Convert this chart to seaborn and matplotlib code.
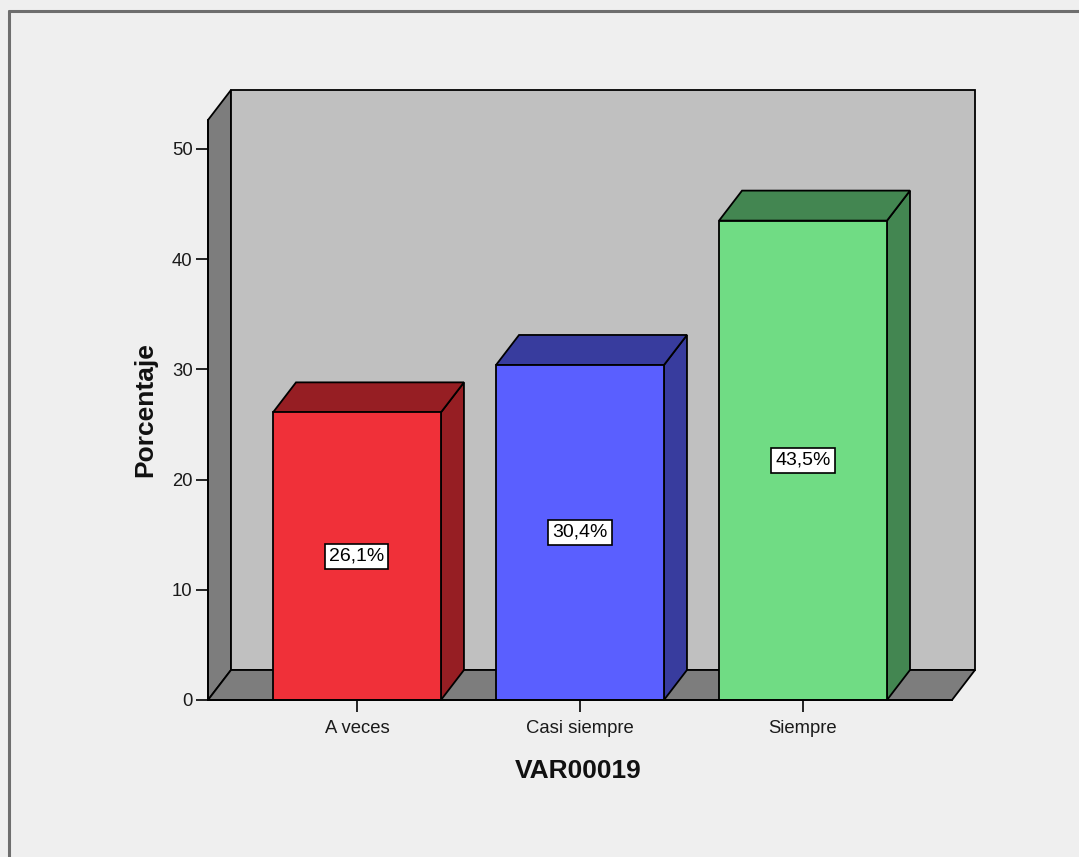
import matplotlib
matplotlib.use("Agg")
import matplotlib.pyplot as plt
from matplotlib.patches import Polygon
from matplotlib.lines import Line2D
import seaborn as sns
import pandas as pd

# Data
categories = ["A veces", "Casi siempre", "Siempre"]
percentages = [26.1, 30.4, 43.5]
value_labels = ["26,1%", "30,4%", "43,5%"]
y_ticks = [0, 10, 20, 30, 40, 50]

front_colors = ["#f03039", "#5a5fff", "#70dc84"]
dark_colors = ["#961e23", "#383c9e", "#438651"]

sns.set_theme(style="white")
plt.rcParams["font.family"] = ["Liberation Sans", "DejaVu Sans"]

W, H = 1079, 857
fig = plt.figure(figsize=(W / 100, H / 100), dpi=100, facecolor="#efefef")

# plot area (front plane) in pixels
left_px, right_px, bottom_px, top_px = 208, 952, 700, 120
ax = fig.add_axes([left_px / W, 1 - bottom_px / H,
                   (right_px - left_px) / W, (bottom_px - top_px) / H])
ax.set_facecolor("none")

xl, xr = -0.668, 2.668
ytop = 52.63

# depth of the 3D extrusion in data units
dx = 23 / 223
dy = 30 / 11.02

df = pd.DataFrame({"cat": categories, "pct": percentages})
sns.barplot(data=df, x="cat", y="pct", hue="cat", palette=front_colors,
            dodge=False, width=0.753, edgecolor="black", linewidth=1.3,
            saturation=1, legend=False, ax=ax, zorder=2)
bars = list(ax.patches)

ax.set_xlim(xl, xr)
ax.set_ylim(0, ytop)

# walls and floor
wall_kw = dict(edgecolor="black", linewidth=1.3, clip_on=False, zorder=0.5)
ax.add_patch(Polygon([(xl, 0), (xl, ytop), (xl + dx, ytop + dy), (xl + dx, dy)],
                     facecolor="#7d7d7d", **wall_kw))
ax.add_patch(Polygon([(xl + dx, dy), (xl + dx, ytop + dy), (xr + dx, ytop + dy), (xr + dx, dy)],
                     facecolor="#c0c0c0", **wall_kw))
ax.add_patch(Polygon([(xl, 0), (xr, 0), (xr + dx, dy), (xl + dx, dy)],
                     facecolor="#7d7d7d", **wall_kw))

# top and side faces of each bar
for patch, dark in zip(bars, dark_colors):
    x0 = patch.get_x()
    x1 = x0 + patch.get_width()
    h = patch.get_height()
    face_kw = dict(facecolor=dark, edgecolor="black", linewidth=1.3,
                   clip_on=False, zorder=1.9)
    ax.add_patch(Polygon([(x1, 0), (x1, h), (x1 + dx, h + dy), (x1 + dx, dy)], **face_kw))
    ax.add_patch(Polygon([(x0, h), (x1, h), (x1 + dx, h + dy), (x0 + dx, h + dy)], **face_kw))

# value labels at mid-height of each bar
for i, (v, lab) in enumerate(zip(percentages, value_labels)):
    ax.text(i, v / 2, lab, ha="center", va="center", fontsize=14, color="black",
            zorder=5, bbox=dict(boxstyle="square,pad=0.2", facecolor="white",
                                edgecolor="black", linewidth=1.2))

ax.set_yticks(y_ticks)
ax.set_yticklabels([str(t) for t in y_ticks])
ax.tick_params(axis="both", which="both", length=8.6, width=1.2, color="black",
               direction="out", labelsize=13.3, labelcolor="#1a1a1a", pad=2.5,
               left=True, bottom=True)
ax.tick_params(axis="x", pad=5.5)

for side in ["top", "right"]:
    ax.spines[side].set_visible(False)
for side in ["left", "bottom"]:
    ax.spines[side].set_color("black")
    ax.spines[side].set_linewidth(1.3)
    ax.spines[side].set_zorder(3)

ax.set_xlabel("VAR00019", fontsize=19, fontweight="bold", color="#111111")
ax.set_ylabel("Porcentaje", fontsize=19, fontweight="bold", color="#111111")
ax.xaxis.label.set(va="center")
ax.yaxis.label.set(va="center", ha="center", rotation_mode="anchor")
ax.xaxis.set_label_coords((578 - left_px) / (right_px - left_px),
                          (bottom_px - 771) / (bottom_px - top_px))
ax.yaxis.set_label_coords((145 - left_px) / (right_px - left_px),
                          (bottom_px - 410) / (bottom_px - top_px))

# outer frame
fig.add_artist(Line2D([9 / W, 9 / W], [0, 1 - 11 / H], transform=fig.transFigure,
                      color="#6e6e6e", linewidth=2.2))
fig.add_artist(Line2D([9 / W, 1], [1 - 11 / H, 1 - 11 / H], transform=fig.transFigure,
                      color="#6e6e6e", linewidth=2.2))

fig.savefig("out.png", dpi=100, facecolor=fig.get_facecolor())
